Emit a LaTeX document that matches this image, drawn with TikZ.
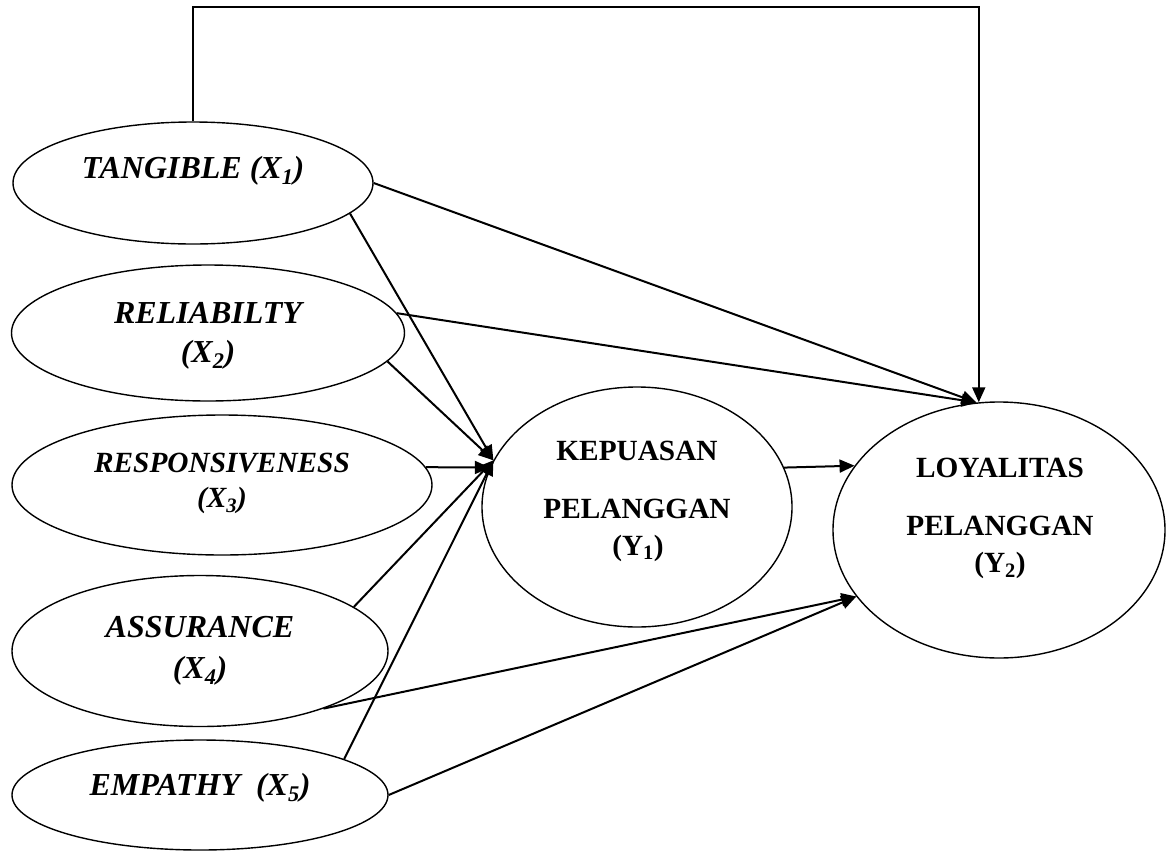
\documentclass[tikz,border=0pt]{standalone}
\usepackage{fontspec}
\setmainfont{Liberation Serif}
\usetikzlibrary{shapes.geometric,arrows.meta}
\begin{document}
\begin{tikzpicture}[x=1pt,y=-1pt,
  var/.style={ellipse, draw, line width=1.4pt, inner sep=0pt},
  lbl/.style={anchor=base, inner sep=0pt, font=\fontsize{32}{38}\selectfont\bfseries\itshape},
  lbls/.style={anchor=base, inner sep=0pt, font=\fontsize{29.3}{35}\selectfont\bfseries\itshape},
  blbl/.style={anchor=base, inner sep=0pt, font=\fontsize{29.3}{35}\selectfont\bfseries},
  conn/.style={line width=2pt, line join=miter, -{Triangle[length=15pt,width=13pt]}}]
\useasboundingbox[fill=white] (0,0) rectangle (1170,852);

% ellipses
\node[var, minimum width=360pt, minimum height=122pt] (t) at (193,183) {};
\node[var, minimum width=393pt, minimum height=136pt] (r) at (208,333) {};
\node[var, minimum width=420pt, minimum height=140pt] (s) at (222,485) {};
\node[var, minimum width=376pt, minimum height=151pt] (a) at (200,651) {};
\node[var, minimum width=376pt, minimum height=110pt] (e) at (200,795) {};
\node[var, minimum width=310pt, minimum height=240pt] (k) at (637,507) {};
\node[var, minimum width=332pt, minimum height=256pt] (l) at (999,530) {};

% labels
\node[lbl] (tt) at (193,178.6) {TANGIBLE (X\textsubscript{1})};
\node[lbl] (rt) at (208,323) {RELIABILTY};
\node[lbl] (rx) at (208,362) {(X\textsubscript{2})};
\node[lbls] (st) at (222,472) {RESPONSIVENESS};
\node[lbls] (sx) at (222,507) {(X\textsubscript{3})};
\node[lbl] (at) at (200,637) {ASSURANCE};
\node[lbl] (ax) at (200,678) {(X\textsubscript{4})};
\node[lbl] (et) at (200,795) {EMPATHY\ \ (X\textsubscript{5})};
\node[blbl] (kt) at (637,460) {KEPUASAN};
\node[blbl] (kp) at (637,518) {PELANGGAN};
\node[blbl] (ky) at (638,555) {(Y\textsubscript{1})};
\node[blbl] (lt) at (1000,477) {LOYALITAS};
\node[blbl] (lp) at (1000,535) {PELANGGAN};
\node[blbl] (ly) at (1000,572) {(Y\textsubscript{2})};

% connectors
\coordinate (top) at (0,7);
\draw[conn] (t.north) -- (t.north |- top) -- (l.99.4 |- top) -- (l.99.4);
\draw[conn] (t.east) -- (l.100);
\draw[conn] (r.6.4) -- (l.100);
\draw[conn] (t.-11.2) -- (k.162);
\draw[conn] (r.-9.5) -- (k.162);
\draw[conn] (s.5) -- (k.165);
\draw[conn] (a.16.9) -- (k.162);
\draw[conn] (e.14.6) -- (k.162);
\draw[conn] (a.-25.8) -- (l.205);
\draw[conn] (e.east) -- (l.205);
\draw[conn] (k.15) -- (l.156.4);
\end{tikzpicture}
\end{document}
